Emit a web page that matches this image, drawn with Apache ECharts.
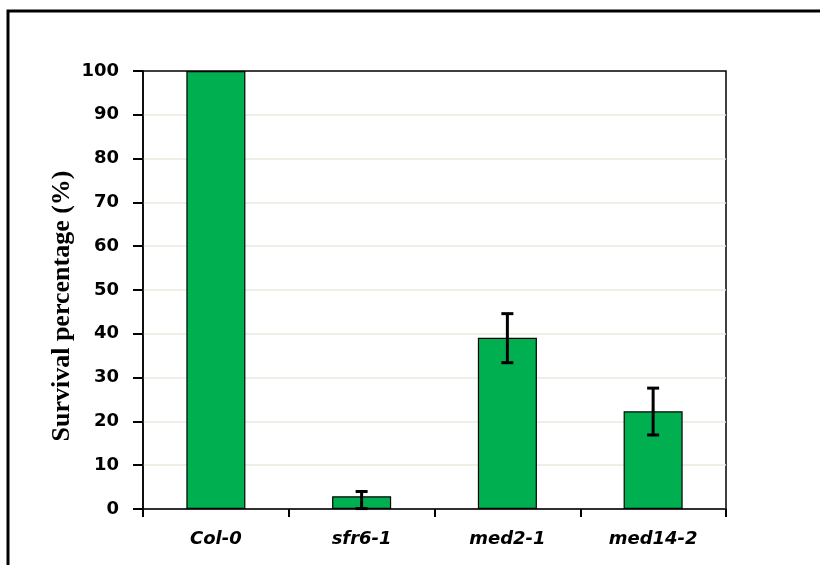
<!DOCTYPE html>
<html>
<head>
<meta charset="utf-8">
<script src="https://cdn.jsdelivr.net/npm/echarts@6/dist/echarts.min.js"></script>
<style>
  html, body { margin: 0; padding: 0; background: #fff; }
  #chart { width: 820px; height: 565px; }
</style>
</head>
<body>
<div id="chart"></div>
<script>
// Genotypes and survival data
const categories = ['Col-0', 'sfr6-1', 'med2-1', 'med14-2'];
const survival = [100, 2.9, 39.1, 22.3];
// Error bar bounds (null = no bar drawn)
const errLow = [null, 0.1, 33.4, 16.9];
const errHigh = [null, 4.0, 44.6, 27.6];
const yTicks = [0, 10, 20, 30, 40, 50, 60, 70, 80, 90, 100];

const chart = echarts.init(document.getElementById('chart'), null, { renderer: 'canvas' });

const errData = categories.map((c, i) => [i, errLow[i], errHigh[i]]).filter(d => d[1] !== null);

chart.setOption({
  animation: false,
  backgroundColor: '#ffffff',
  grid: {
    left: 143, right: 94, top: 71, bottom: 56,
    show: true, borderColor: '#000', borderWidth: 1.5, backgroundColor: 'transparent'
  },
  graphic: [{
    type: 'polyline',
    shape: { points: [[8, 570], [8, 11], [830, 11]] },
    style: { stroke: '#000', lineWidth: 3, fill: null },
    z: 100
  }, {
    // y-axis title, centred slightly below the plot's middle
    type: 'text',
    x: 62, y: 306,
    rotation: Math.PI / 2,
    style: {
      text: 'Survival percentage (%)',
      fontFamily: 'Liberation Serif', fontWeight: 'bold', fontSize: 26, fill: '#000',
      align: 'center', verticalAlign: 'middle'
    }
  }],
  xAxis: {
    type: 'category',
    data: categories,
    axisLine: { lineStyle: { color: '#000', width: 1.5 } },
    axisTick: { show: true, length: 8, lineStyle: { color: '#000', width: 2 } },
    axisLabel: {
      margin: 21,
      fontFamily: 'DejaVu Sans', fontWeight: 'bold', fontStyle: 'italic',
      fontSize: 18, color: '#000'
    },
    splitLine: { show: false }
  },
  yAxis: {
    type: 'value',
    min: yTicks[0], max: yTicks[yTicks.length - 1], interval: 10,
    axisLine: { show: true, lineStyle: { color: '#000', width: 1.5 } },
    axisTick: { show: true, length: 10, lineStyle: { color: '#000', width: 2 } },
    axisLabel: {
      margin: 24,
      fontFamily: 'DejaVu Sans', fontWeight: 'bold', fontSize: 18, color: '#000'
    },
    splitLine: { show: true, showMaxLine: false, lineStyle: { color: '#ebe8dd', width: 1.5 } }
  },
  series: [{
    type: 'bar',
    data: survival,
    barWidth: '40.5%',
    itemStyle: { color: '#00b050', borderColor: '#000', borderWidth: 1.2 },
    z: 2
  }, {
    type: 'custom',
    data: errData,
    z: 3,
    renderItem: function (params, api) {
      const x = api.value(0);
      const lo = api.coord([x, api.value(1)]);
      const hi = api.coord([x, api.value(2)]);
      const span = lo[1] - hi[1];
      // short bars get a thinner stem
      const stemWidth = span < 10 ? 1.2 : 3;
      const half = 6;
      const capStyle = { stroke: '#000', lineWidth: 3 };
      return {
        type: 'group',
        children: [
          { type: 'line', shape: { x1: hi[0], y1: hi[1], x2: lo[0], y2: lo[1] }, style: { stroke: '#000', lineWidth: stemWidth } },
          { type: 'line', shape: { x1: hi[0] - half, y1: hi[1], x2: hi[0] + half, y2: hi[1] }, style: capStyle },
          { type: 'line', shape: { x1: lo[0] - half, y1: lo[1], x2: lo[0] + half, y2: lo[1] }, style: capStyle }
        ]
      };
    }
  }]
});
</script>
</body>
</html>
